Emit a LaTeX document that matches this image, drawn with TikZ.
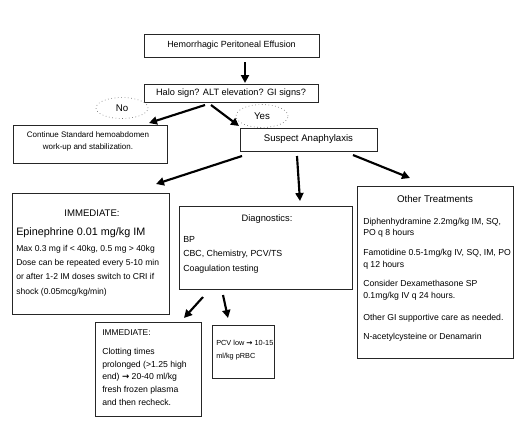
\documentclass[tikz,border=0pt]{standalone}
\usepackage{fontspec}
\setmainfont{Liberation Sans}
\newfontfamily\dvarrow{DejaVu Sans}
\usetikzlibrary{arrows.meta,shapes.geometric}
\newcommand\fsz[1]{\fontsize{#1}{#1}\selectfont}
\newcommand\rarr{{\dvarrow\bfseries →}}
\begin{document}
\begin{tikzpicture}[x=0.75pt,y=-0.75pt,
  box/.style 2 args={draw=black!85, line width=0.6pt, minimum width=#1*0.75pt, minimum height=#2*0.75pt, inner sep=0pt},
  oval/.style={ellipse, draw=black!55, dotted, line width=0.5pt, minimum width=52*0.75pt, minimum height=21*0.75pt, inner sep=0pt, font=\fsz{7.3}},
  arr/.style={line width=1.6pt, -{Triangle[length=6pt,width=6pt]}},
  tx/.style={inner sep=0pt, anchor=base west, yshift=-1.7pt, font=\fsz{6.4}},
  tc/.style={inner sep=0pt, anchor=base, yshift=-1.8pt, font=\fsz{6.6}},
]
\fill[white] (0,0) rectangle (522,436);
\useasboundingbox (0,0) rectangle (522,436);

% main boxes
\node[box={175}{23}, font=\fsz{6.7}] (top) at (231.5,45.5) {Hemorrhagic Peritoneal Effusion};
\node[box={174}{18}, font=\fsz{6.9}] (halo) at (231,93) {Halo sign? ALT elevation? GI signs?};
\node[oval] (no) at (122,108) {No};
\node[oval, minimum height=23*0.75pt] (yes) at (262,116) {Yes};
\node[box={154}{38}] (cont) at (90,144) {};
\node[inner sep=0pt, align=center, font=\fontsize{6}{9}\selectfont] (conttext) at (88,141) {Continue Standard hemoabdomen\\work-up and stabilization.};
\node[box={137}{23}, font=\fsz{7.2}] (susp) at (308.5,139.5) {Suspect Anaphylaxis};

% left immediate box
\node[box={157}{121}] (imm) at (90.5,253.5) {};
\node[tc, font=\fsz{7.2}] (immh) at (92,214) {IMMEDIATE:};
\node[tx, font=\fsz{8.1}] (epi) at (16,233) {Epinephrine 0.01 mg/kg IM};
\node[tx] (m1) at (16,249) {Max 0.3 mg if < 40kg, 0.5 mg > 40kg};
\node[tx] (m2) at (16,263) {Dose can be repeated every 5-10 min};
\node[tx] (m3) at (16,277) {or after 1-2 IM doses switch to CRI if};
\node[tx] (m4) at (16,292) {shock (0.05mcg/kg/min)};

% diagnostics
\node[box={173}{83}] (diag) at (265.5,247.5) {};
\node[tc, font=\fsz{7}] (dh) at (267,219) {Diagnostics:};
\node[tx, font=\fsz{6.6}] (d1) at (183,240) {BP};
\node[tx, font=\fsz{6.6}] (d2) at (183,254) {CBC, Chemistry, PCV/TS};
\node[tx, font=\fsz{6.6}] (d3) at (183,269) {Coagulation testing};

% other treatments
\node[box={156}{172}] (oth) at (435,272.5) {};
\node[tc, font=\fsz{7.3}] (oh) at (435,200) {Other Treatments};
\node[tx, font=\fsz{6.5}] (o1) at (363,222) {Diphenhydramine 2.2mg/kg IM, SQ,};
\node[tx, font=\fsz{6.5}] (o2) at (363,233) {PO q 8 hours};
\node[tx, font=\fsz{6.5}] (o3) at (363,253) {Famotidine 0.5-1mg/kg IV, SQ, IM, PO};
\node[tx, font=\fsz{6.5}] (o4) at (363,265) {q 12 hours};
\node[tx, font=\fsz{6.5}] (o5) at (363,284) {Consider Dexamethasone SP};
\node[tx, font=\fsz{6.5}] (o6) at (363,296) {0.1mg/kg IV q 24 hours.};
\node[tx, font=\fsz{6.5}] (o7) at (363,318) {Other GI supportive care as needed.};
\node[tx, font=\fsz{6.5}] (o8) at (363,337) {N-acetylcysteine or Denamarin};

% bottom immediate
\node[box={106}{94}] (imm2) at (148,369) {};
\node[tx, font=\fsz{6.3}] (bh) at (102,333) {IMMEDIATE:};
\node[tx, font=\fsz{6.5}] (b1) at (102,352) {Clotting times};
\node[tx, font=\fsz{6.5}] (b2) at (102,365) {prolonged (>1.25 high};
\node[tx, font=\fsz{6.5}] (b3) at (102,377) {end) \rarr\ 20-40 ml/kg};
\node[tx, font=\fsz{6.5}] (b4) at (102,390) {fresh frozen plasma};
\node[tx, font=\fsz{6.5}] (b5) at (102,403) {and then recheck.};

% PCV
\node[box={62}{53}] (pcv) at (243,351.5) {};
\node[tx, font=\fsz{5.5}] (p1) at (216,343) {PCV low \rarr\ 10-15};
\node[tx, font=\fsz{5.5}] (p2) at (216,356) {ml/kg pRBC};

% arrow endpoints
\coordinate (a1s) at (245,62);  \coordinate (a1e) at (245,83);
\coordinate (a2s) at (205,105); \coordinate (a2e) at (149,123);
\coordinate (a3s) at (211,105); \coordinate (a3e) at (239,126);
\coordinate (a4s) at (242,156); \coordinate (a4e) at (156,184);
\coordinate (a5s) at (297,156); \coordinate (a5e) at (300,201);
\coordinate (a6s) at (353,155); \coordinate (a6e) at (410,178);
\coordinate (a7s) at (203,297); \coordinate (a7e) at (184,318);
\coordinate (a8s) at (223,295); \coordinate (a8e) at (228,318);

\draw[arr] (a1s) -- (a1e);
\draw[arr] (a2s) -- (a2e);
\draw[arr] (a3s) -- (a3e);
\draw[arr] (a4s) -- (a4e);
\draw[arr] (a5s) -- (a5e);
\draw[arr] (a6s) -- (a6e);
\draw[arr] (a7s) -- (a7e);
\draw[arr] (a8s) -- (a8e);
\end{tikzpicture}
\end{document}
